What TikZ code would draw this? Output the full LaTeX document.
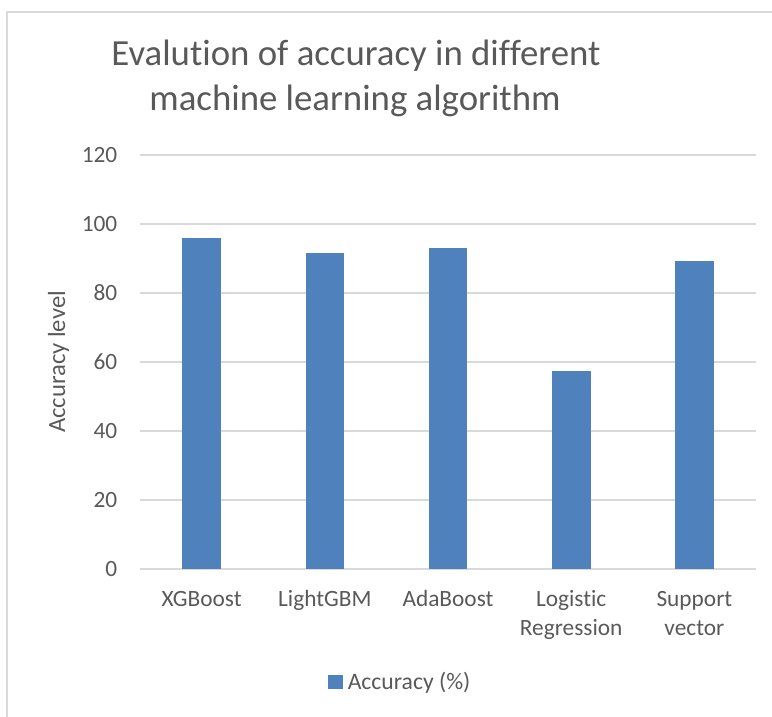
\documentclass[tikz,border=0pt]{standalone}
\usepackage{fontspec}
\setmainfont{Carlito}[Ligatures={NoCommon}]
\definecolor{barblue}{HTML}{4F81BD}
\definecolor{gridgray}{HTML}{D9D9D9}
\definecolor{txtgray}{HTML}{595959}
\begin{document}
\begin{tikzpicture}[x=0.75pt,y=-0.75pt,
  gridline/.style={draw=gridgray,line width=1.4pt},
  bar/.style={fill=barblue},
  ticklab/.style={anchor=east,inner sep=0pt,text=txtgray,font=\fontsize{17.5pt}{21pt}\selectfont},
  catlab/.style={anchor=base,inner sep=0pt,text=txtgray,font=\fontsize{17.5pt}{21pt}\selectfont},
  titlelab/.style={anchor=base,inner sep=0pt,text=txtgray,font=\fontsize{27.6pt}{32pt}\selectfont},
  axlab/.style={anchor=base,inner sep=0pt,rotate=90,text=txtgray,font=\fontsize{18.5pt}{22pt}\selectfont},
  leglab/.style={anchor=base west,inner sep=0pt,text=txtgray,font=\fontsize{17.75pt}{21pt}\selectfont}]
\useasboundingbox (0,0) rectangle (772,717);
% chart border
\draw[draw=gridgray,line width=1.2pt] (7,800) -- (7,12) -- (800,12);
% gridlines and tick labels
\foreach \v/\nm in {0/t0,20/t20,40/t40,60/t60,80/t80,100/t100,120/t120}{
  \draw[gridline] (140,{568.7-3.45*\v}) -- (756,{568.7-3.45*\v});
  \node[ticklab] (\nm) at (117.5,{568.7-3.45*\v}) {\v};
}
% bars
\foreach \i/\v in {0/95.8,1/91.4,2/93.1,3/57.4,4/89.2}{
  \fill[bar] ({201.6+123.2*\i-19.3},568.7) rectangle ({201.6+123.2*\i+19.3},{568.7-3.45*\v});
}
% category labels
\node[catlab] (c1) at (201.6,606.7) {XGBoost};
\node[catlab] (c2) at (324.8,606.7) {LightGBM};
\node[catlab] (c3) at (448.0,606.7) {AdaBoost};
\node[catlab] (c4a) at (571.2,606.7) {Logistic};
\node[catlab] (c4b) at (571.2,635.5) {Regression};
\node[catlab] (c5a) at (694.4,606.7) {Support};
\node[catlab] (c5b) at (694.4,635.5) {vector};
% title
\node[titlelab] (title1) at (356,66) {Evalution of accuracy in different};
\node[titlelab] (title2) at (355,111) {machine learning algorithm};
% axis title
\node[axlab] (ytitle) at (65,362) {Accuracy level};
% legend
\fill[bar] (328,675) rectangle (342.5,689);
\node[leglab] (leg) at (347.5,689) {Accuracy (\%)};
\end{tikzpicture}
\end{document}
